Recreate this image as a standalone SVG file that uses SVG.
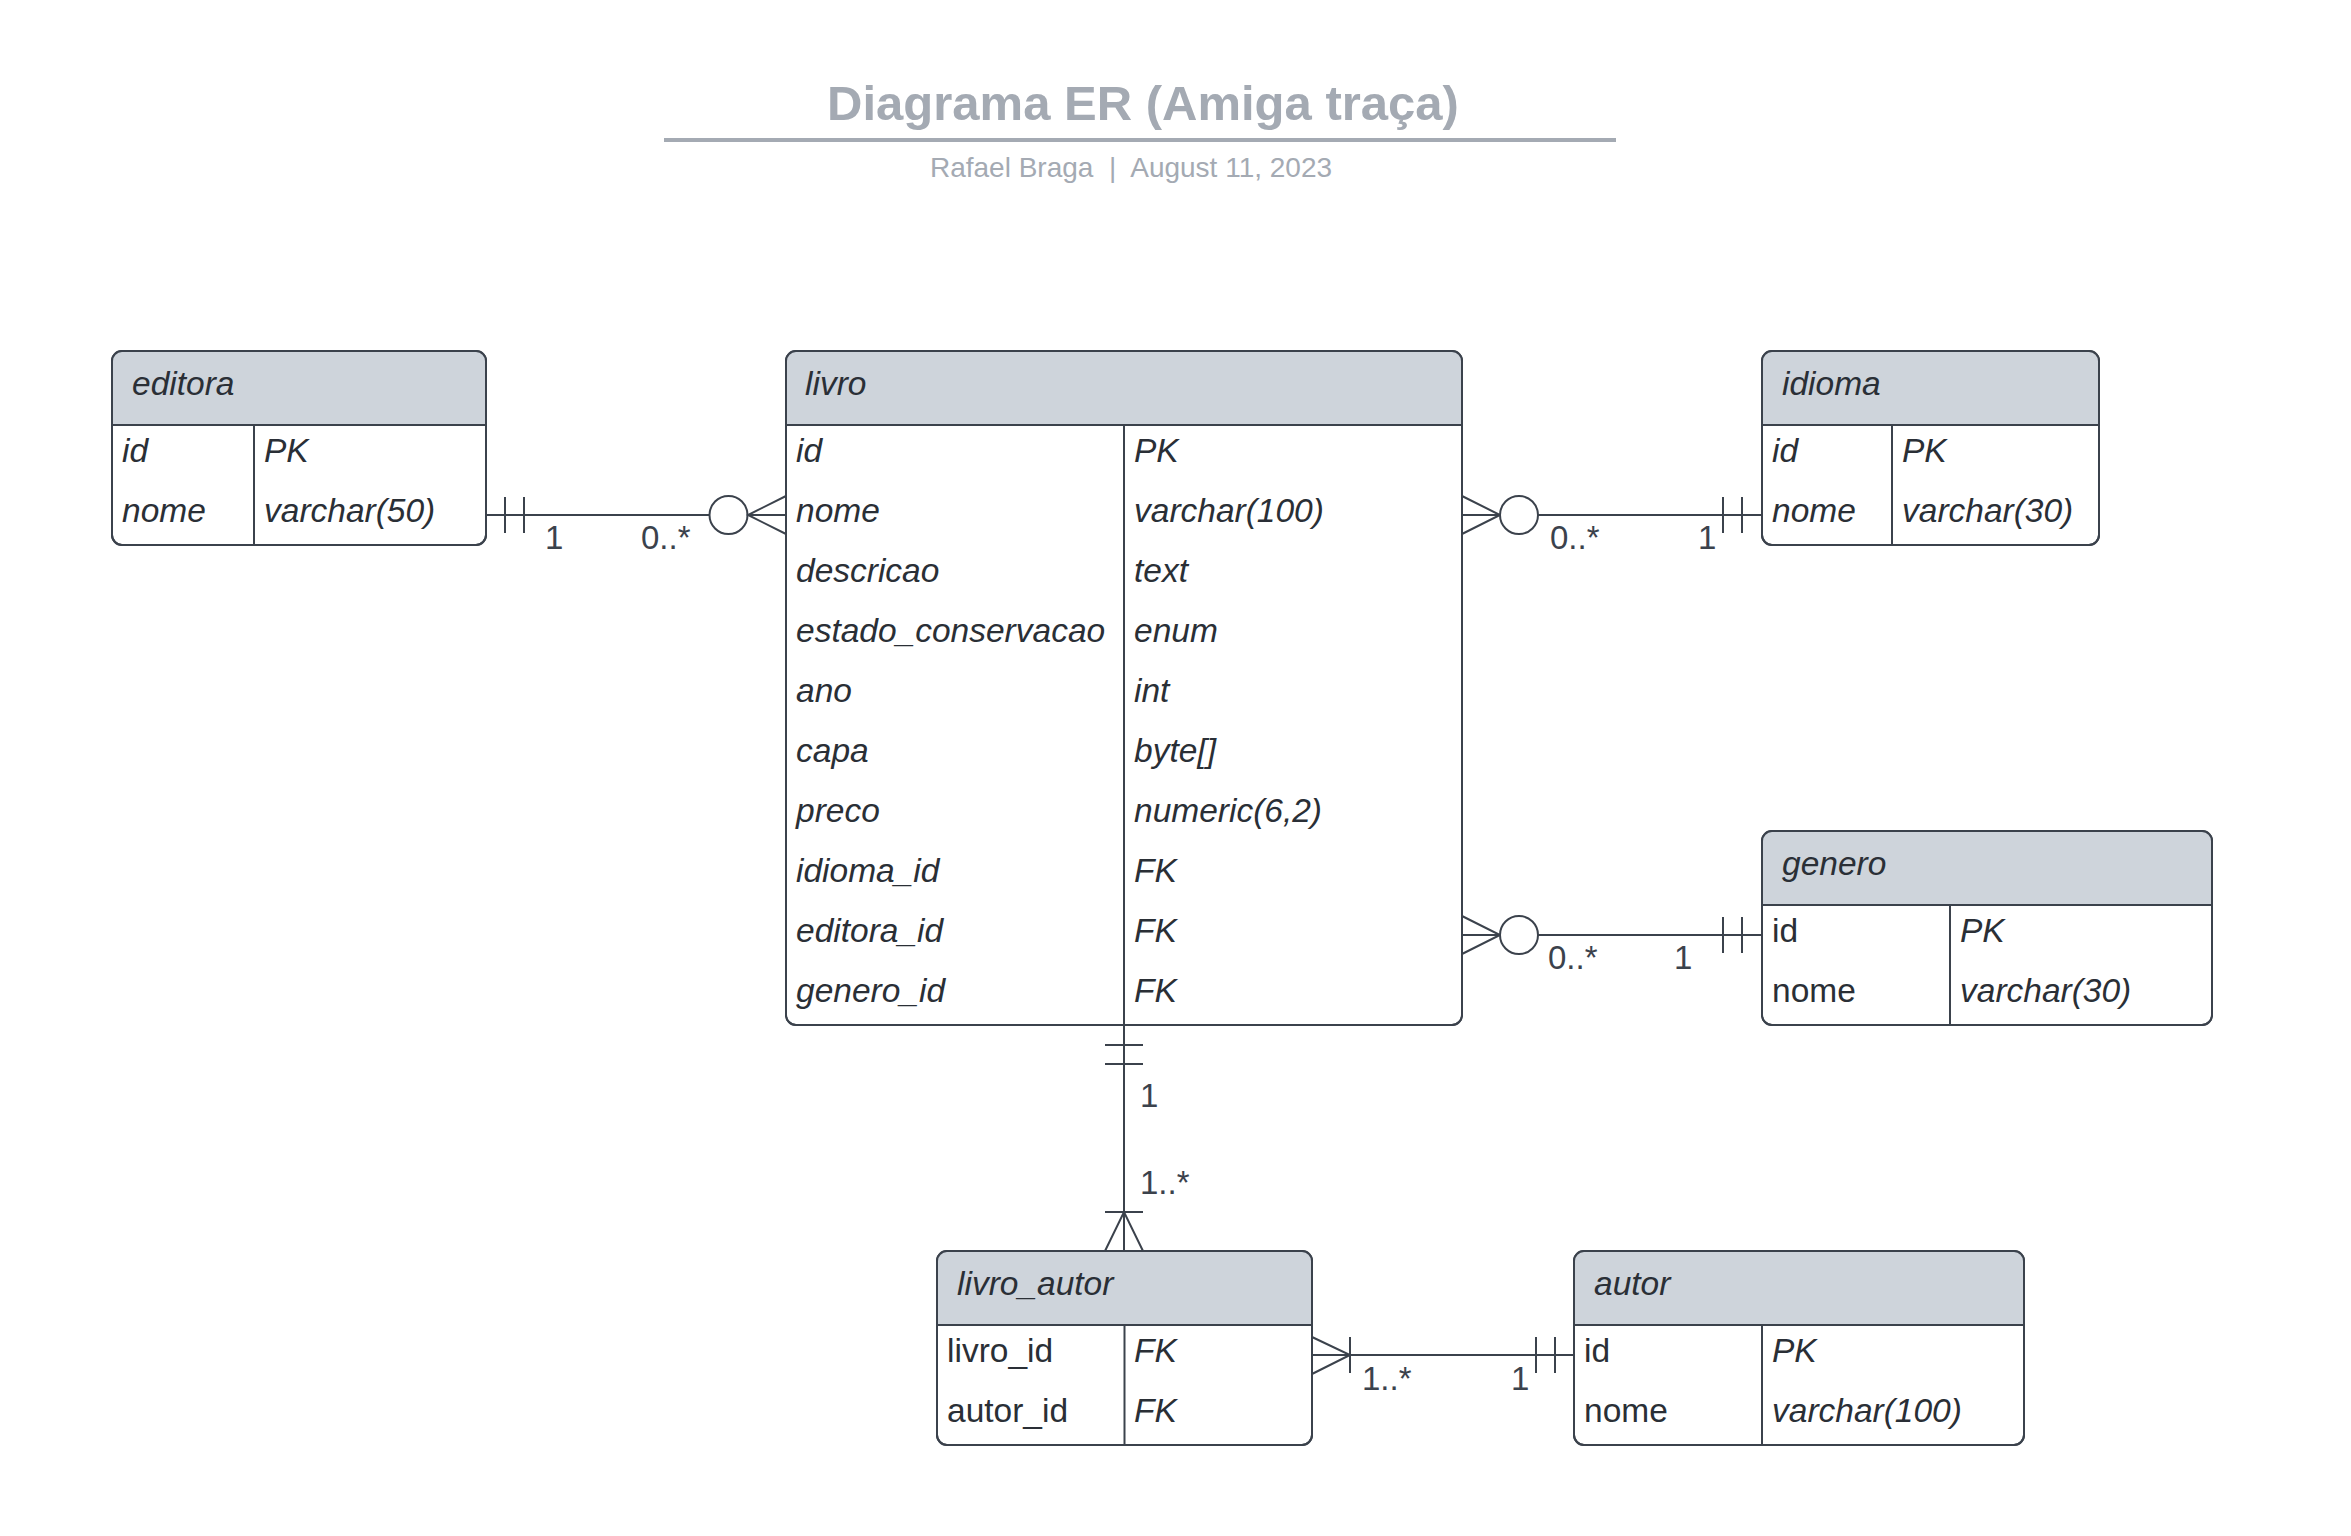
<svg xmlns="http://www.w3.org/2000/svg" width="2351" height="1536" viewBox="0 0 2351 1536">
<style>
text{font-family:"Liberation Sans",Arial,sans-serif;fill:#2a2f36}
.title{font-size:49px;font-weight:bold;fill:#a4aab3}
.sub{font-size:28px;fill:#a4aab3;white-space:pre}
.h{font-size:33.5px;font-style:italic}
.c{font-size:33.5px;font-style:italic}
.u{font-size:33.5px}
.lbl{font-size:33px;fill:#3b424c}
.box{fill:#ffffff;stroke:#3b424c;stroke-width:2}
.out{fill:none;stroke:#3b424c;stroke-width:2}
.hd{fill:#ced4db}
.ln{stroke:#3b424c;stroke-width:2;fill:none}
.cn{stroke:#3b424c;stroke-width:2;fill:none}
.circ{stroke:#3b424c;stroke-width:2;fill:#ffffff}
</style>
<rect width="2351" height="1536" fill="#ffffff"/>
<g id="title">
<text class="title" x="1143" y="120" text-anchor="middle">Diagrama ER (Amiga traça)</text>
<line x1="664" y1="140" x2="1616" y2="140" stroke="#a4aab3" stroke-width="4"/>
<text class="sub" x="1131" y="177" text-anchor="middle" xml:space="preserve">Rafael Braga  |  August 11, 2023</text>
</g>
<g id="connectors">
<!-- editora - livro -->
<line class="cn" x1="486" y1="515" x2="709.5" y2="515"/>
<line class="cn" x1="505" y1="497" x2="505" y2="533"/>
<line class="cn" x1="524" y1="497" x2="524" y2="533"/>
<circle class="circ" cx="728.5" cy="515" r="19"/>
<path class="cn" d="M786 496 L748 515 L786 534 M748 515 H786"/>
<text class="lbl" x="545" y="549">1</text>
<text class="lbl" x="641" y="549">0..*</text>
<!-- livro - idioma -->
<line class="cn" x1="1538" y1="515" x2="1762" y2="515"/>
<path class="cn" d="M1462 496 L1500 515 L1462 534 M1462 515 H1500"/>
<circle class="circ" cx="1519" cy="515" r="19"/>
<line class="cn" x1="1723" y1="497" x2="1723" y2="533"/>
<line class="cn" x1="1742" y1="497" x2="1742" y2="533"/>
<text class="lbl" x="1550" y="549">0..*</text>
<text class="lbl" x="1698" y="549">1</text>
<!-- livro - genero -->
<line class="cn" x1="1538" y1="935" x2="1762" y2="935"/>
<path class="cn" d="M1462 916 L1500 935 L1462 954 M1462 935 H1500"/>
<circle class="circ" cx="1519" cy="935" r="19"/>
<line class="cn" x1="1723" y1="917" x2="1723" y2="953"/>
<line class="cn" x1="1742" y1="917" x2="1742" y2="953"/>
<text class="lbl" x="1548" y="969">0..*</text>
<text class="lbl" x="1674" y="969">1</text>
<!-- livro - livro_autor -->
<line class="cn" x1="1124" y1="1025" x2="1124" y2="1251"/>
<line class="cn" x1="1105" y1="1045" x2="1143" y2="1045"/>
<line class="cn" x1="1105" y1="1064" x2="1143" y2="1064"/>
<line class="cn" x1="1105" y1="1212" x2="1143" y2="1212"/>
<path class="cn" d="M1105 1251 L1124 1212 L1143 1251"/>
<text class="lbl" x="1140" y="1107">1</text>
<text class="lbl" x="1140" y="1194">1..*</text>
<!-- livro_autor - autor -->
<line class="cn" x1="1312" y1="1355" x2="1574" y2="1355"/>
<path class="cn" d="M1312 1337 L1350 1355 L1312 1374"/>
<line class="cn" x1="1350" y1="1337" x2="1350" y2="1373"/>
<line class="cn" x1="1536" y1="1337" x2="1536" y2="1373"/>
<line class="cn" x1="1555" y1="1337" x2="1555" y2="1373"/>
<text class="lbl" x="1362" y="1390">1..*</text>
<text class="lbl" x="1511" y="1390">1</text>
</g>
<g id="editora">
<rect class="box" x="112" y="351" width="374" height="194" rx="10"/>
<path class="hd" d="M112 425 V361 Q112 351 122 351 H476 Q486 351 486 361 V425 Z"/>
<line class="ln" x1="112" y1="425" x2="486" y2="425"/>
<line class="ln" x1="254" y1="425" x2="254" y2="545"/>
<rect class="out" x="112" y="351" width="374" height="194" rx="10"/>
<text class="h" x="132" y="395">editora</text>
<text class="c" x="122" y="462">id</text><text class="c" x="264" y="462">PK</text>
<text class="c" x="122" y="522">nome</text><text class="c" x="264" y="522">varchar(50)</text>
</g>
<g id="livro">
<rect class="box" x="786" y="351" width="676" height="674" rx="10"/>
<path class="hd" d="M786 425 V361 Q786 351 796 351 H1452 Q1462 351 1462 361 V425 Z"/>
<line class="ln" x1="786" y1="425" x2="1462" y2="425"/>
<line class="ln" x1="1124" y1="425" x2="1124" y2="1025"/>
<rect class="out" x="786" y="351" width="676" height="674" rx="10"/>
<text class="h" x="805" y="395">livro</text>
<text class="c" x="796" y="462">id</text><text class="c" x="1134" y="462">PK</text>
<text class="c" x="796" y="522">nome</text><text class="c" x="1134" y="522">varchar(100)</text>
<text class="c" x="796" y="582">descricao</text><text class="c" x="1134" y="582">text</text>
<text class="c" x="796" y="642">estado_conservacao</text><text class="c" x="1134" y="642">enum</text>
<text class="c" x="796" y="702">ano</text><text class="c" x="1134" y="702">int</text>
<text class="c" x="796" y="762">capa</text><text class="c" x="1134" y="762">byte[]</text>
<text class="c" x="796" y="822">preco</text><text class="c" x="1134" y="822">numeric(6,2)</text>
<text class="c" x="796" y="882">idioma_id</text><text class="c" x="1134" y="882">FK</text>
<text class="c" x="796" y="942">editora_id</text><text class="c" x="1134" y="942">FK</text>
<text class="c" x="796" y="1002">genero_id</text><text class="c" x="1134" y="1002">FK</text>
</g>
<g id="idioma">
<rect class="box" x="1762" y="351" width="337" height="194" rx="10"/>
<path class="hd" d="M1762 425 V361 Q1762 351 1772 351 H2089 Q2099 351 2099 361 V425 Z"/>
<line class="ln" x1="1762" y1="425" x2="2099" y2="425"/>
<line class="ln" x1="1892" y1="425" x2="1892" y2="545"/>
<rect class="out" x="1762" y="351" width="337" height="194" rx="10"/>
<text class="h" x="1782" y="395">idioma</text>
<text class="c" x="1772" y="462">id</text><text class="c" x="1902" y="462">PK</text>
<text class="c" x="1772" y="522">nome</text><text class="c" x="1902" y="522">varchar(30)</text>
</g>
<g id="genero">
<rect class="box" x="1762" y="831" width="450" height="194" rx="10"/>
<path class="hd" d="M1762 905 V841 Q1762 831 1772 831 H2202 Q2212 831 2212 841 V905 Z"/>
<line class="ln" x1="1762" y1="905" x2="2212" y2="905"/>
<line class="ln" x1="1950" y1="905" x2="1950" y2="1025"/>
<rect class="out" x="1762" y="831" width="450" height="194" rx="10"/>
<text class="h" x="1782" y="875">genero</text>
<text class="u" x="1772" y="942">id</text><text class="c" x="1960" y="942">PK</text>
<text class="u" x="1772" y="1002">nome</text><text class="c" x="1960" y="1002">varchar(30)</text>
</g>
<g id="livro_autor">
<rect class="box" x="937" y="1251" width="375" height="194" rx="10"/>
<path class="hd" d="M937 1325 V1261 Q937 1251 947 1251 H1302 Q1312 1251 1312 1261 V1325 Z"/>
<line class="ln" x1="937" y1="1325" x2="1312" y2="1325"/>
<line class="ln" x1="1124.5" y1="1325" x2="1124.5" y2="1445"/>
<rect class="out" x="937" y="1251" width="375" height="194" rx="10"/>
<text class="h" x="957" y="1295">livro_autor</text>
<text class="u" x="947" y="1362">livro_id</text><text class="c" x="1134" y="1362">FK</text>
<text class="u" x="947" y="1422">autor_id</text><text class="c" x="1134" y="1422">FK</text>
</g>
<g id="autor">
<rect class="box" x="1574" y="1251" width="450" height="194" rx="10"/>
<path class="hd" d="M1574 1325 V1261 Q1574 1251 1584 1251 H2014 Q2024 1251 2024 1261 V1325 Z"/>
<line class="ln" x1="1574" y1="1325" x2="2024" y2="1325"/>
<line class="ln" x1="1762" y1="1325" x2="1762" y2="1445"/>
<rect class="out" x="1574" y="1251" width="450" height="194" rx="10"/>
<text class="h" x="1594" y="1295">autor</text>
<text class="u" x="1584" y="1362">id</text><text class="c" x="1772" y="1362">PK</text>
<text class="u" x="1584" y="1422">nome</text><text class="c" x="1772" y="1422">varchar(100)</text>
</g>
</svg>
